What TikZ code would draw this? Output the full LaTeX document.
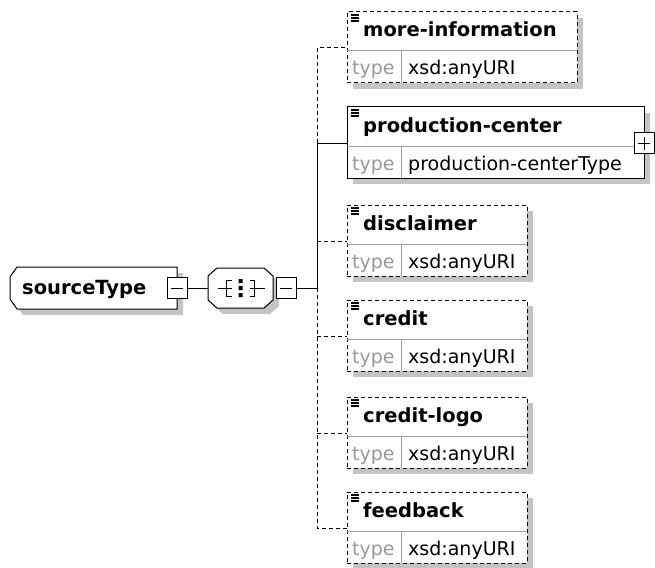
\documentclass[tikz,border=0pt]{standalone}
\usepackage{fontspec}
\setmainfont{DejaVu Sans}
\usepackage{xcolor}
\definecolor{shade}{HTML}{C4C4C4}
\definecolor{rulegray}{HTML}{A0A0A0}
\definecolor{typegray}{HTML}{999999}
\usetikzlibrary{positioning,shadows}
\tikzset{
  elbox/.style   ={draw=black,fill=white,line width=1pt,outer sep=0pt,inner sep=0pt,
                   drop shadow={shadow xshift=6pt,shadow yshift=-6pt,fill=shade,opacity=1}},
  req/.style     ={elbox},
  opt/.style     ={elbox,dash pattern=on 4pt off 3pt},
  outline/.style ={elbox,line join=miter},
  holder/.style  ={rectangle,inner sep=0pt,outer sep=0pt},
  ctrl/.style    ={draw=black,fill=white,line width=1pt,minimum width=20pt,
                   minimum height=21pt,inner sep=0pt,outer sep=0pt},
  minusbox/.style={ctrl,path picture={
                   \draw[line width=1pt] ([xshift=4pt]path picture bounding box.west)
                     -- ([xshift=-4pt]path picture bounding box.east);}},
  plusbox/.style ={ctrl,path picture={
                   \draw[line width=1pt] ([xshift=4pt]path picture bounding box.west)
                     -- ([xshift=-4pt]path picture bounding box.east)
                     ([yshift=4pt]path picture bounding box.south)
                     -- ([yshift=-4pt]path picture bounding box.north);}},
  namefont/.style={font=\fontsize{19.5}{22}\selectfont\bfseries,inner sep=0pt},
  valfont/.style ={font=\fontsize{19}{22}\selectfont,inner sep=0pt},
  typelbl/.style ={valfont,text=typegray},
  divline/.style ={draw=rulegray,line width=1pt},
  reqline/.style ={line width=1pt},
  optline/.style ={line width=1pt,dash pattern=on 4pt off 3pt},
}
% child element: id, top, width, name, type, border style
\newcommand{\elem}[6]{%
  \node[#6,anchor=north west,minimum width=#3,minimum height=71] (#1) at (347,#2) {};
  \draw[divline] ([yshift=-39pt]#1.north west) -- ([yshift=-39pt]#1.north east);
  \draw[divline] ([xshift=54pt,yshift=-39pt]#1.north west) -- ([xshift=54pt]#1.south west);
  \draw[line width=1.2pt] ([xshift=4pt,yshift=-3pt]#1.north west) -- ++(8,0)
    ([xshift=4pt,yshift=-6pt]#1.north west) -- ++(8,0)
    ([xshift=4pt,yshift=-9pt]#1.north west) -- ++(8,0);
  \node[namefont,anchor=base west] (#1-name) at ([xshift=16pt,yshift=-25pt]#1.north west) {#4};
  \node[typelbl,anchor=base west] (#1-tl) at ([xshift=5pt,yshift=8pt]#1.south west) {type};
  \node[valfont,anchor=base west] (#1-type) at ([xshift=61pt,yshift=8pt]#1.south west) {#5};
  \coordinate (#1-in) at ([yshift=-36pt]#1.north west);
}

\begin{document}
\begin{tikzpicture}[x=1pt,y=-1pt]
\useasboundingbox (0,0) rectangle (655,567);
% root type and sequence
\node[holder,minimum width=167,minimum height=42] (st) at (93.5,288) {};
\draw[outline] ([xshift=7pt]st.north west) -- (st.north east) -- (st.south east)
  -- ([xshift=7pt]st.south west) -- ([yshift=10pt]st.south west)
  -- ([yshift=-10pt]st.north west) -- cycle;
\node[namefont,anchor=base west] (st-txt) at (22,294) {sourceType};
\node[minusbox] (st-ctrl) at (st.east) {};
\node[holder,minimum width=65,minimum height=40] (seq) at (240.5,288) {};
\draw[outline] ([xshift=9pt]seq.north west) -- ([xshift=-9pt]seq.north east)
  -- ([yshift=-8pt]seq.north east) -- ([yshift=8pt]seq.south east)
  -- ([xshift=-9pt]seq.south east) -- ([xshift=9pt]seq.south west)
  -- ([yshift=8pt]seq.south west) -- ([yshift=-8pt]seq.north west) -- cycle;
\node[minusbox,right=3pt of seq] (seq-ctrl) {};
\draw[reqline] (st-ctrl) -- (seq);
% sequence symbol
\begin{scope}[shift={(seq.center)},line width=1pt]
\draw (-23,0) -- (-9,0) (9,0) -- (24,0);
\draw (-9,-8) -- (-14,-8) -- (-14,8) -- (-9,8);
\draw (9,-8) -- (14,-8) -- (14,8) -- (9,8);
\fill (-2,-9) rectangle (2,-5) (-2,-2) rectangle (2,2) (-2,5) rectangle (2,9);
\end{scope}
\coordinate (sp) at (317,288);
\draw[reqline] (seq-ctrl) -- (sp);
% elements
\elem{mi}{12}{230}{more-information}{xsd:anyURI}{opt}
\elem{pc}{107}{297}{production-center}{production-centerType}{req}
\elem{di}{205}{180}{disclaimer}{xsd:anyURI}{opt}
\elem{cr}{300}{180}{credit}{xsd:anyURI}{opt}
\elem{cl}{397}{180}{credit-logo}{xsd:anyURI}{opt}
\elem{fb}{492}{180}{feedback}{xsd:anyURI}{opt}
\node[plusbox] (pc-ctrl) at (pc-in -| pc.east) {};
% connectors
\draw[reqline] (sp) -- (pc-in -| sp) -- (pc-in);
\draw[optline] (pc-in -| sp) -- (mi-in -| sp) -- (mi-in);
\draw[optline] (sp) -- (fb-in -| sp) -- (fb-in);
\draw[optline] (di-in -| sp) -- (di-in);
\draw[optline] (cr-in -| sp) -- (cr-in);
\draw[optline] (cl-in -| sp) -- (cl-in);
\end{tikzpicture}
\end{document}
